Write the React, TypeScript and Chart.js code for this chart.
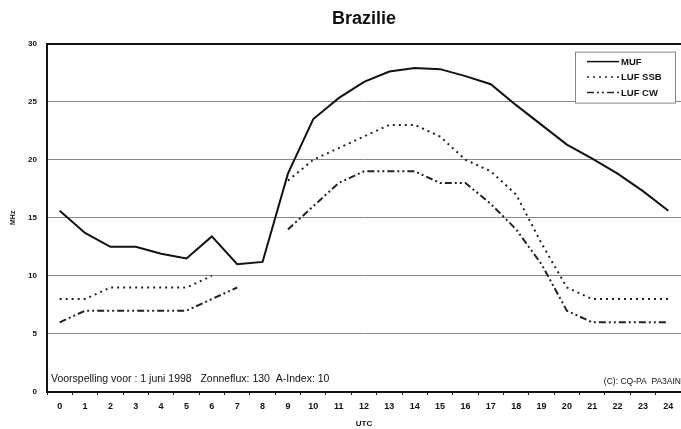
import React, { useEffect, useRef } from "react";
import { Chart, registerables } from "chart.js";

Chart.register(...registerables);

const hours = ["0","1","2","3","4","5","6","7","8","9","10","11","12","13","14","15","16","17","18","19","20","21","22","23","24"];
const muf = [15.6,13.7,12.5,12.5,11.9,11.5,13.4,11.0,11.2,18.8,23.5,25.3,26.7,27.6,27.9,27.8,27.2,26.5,24.7,23.0,21.3,20.1,18.8,17.3,15.6];
const lufSsb = [8,8,9,9,9,9,10,null,null,18.2,20,21,22,23,23,22,20,19,17,12.8,9,8,8,8,8];
const lufCw = [6,7,7,7,7,7,8,9,null,14,16,18,19,19,19,18,18,16.2,14,11,7,6,6,6,6];
const yTicks = [0,5,10,15,20,25,30];
const titleText = "Brazilie";
const footLeft = "Voorspelling voor : 1 juni 1998   Zonneflux: 130  A-Index: 10";
const footRight = "(C): CQ-PA  PA3AIN";

const FONT = "'Liberation Sans', Arial, sans-serif";

const overlayPlugin = {
  id: "overlay",
  afterDraw(chart: any) {
    const ctx = chart.ctx;
    const a = chart.chartArea;
    ctx.save();
    // footnotes
    ctx.fillStyle = "#111";
    ctx.font = `10.5px ${FONT}`;
    ctx.textBaseline = "alphabetic";
    ctx.textAlign = "left";
    ctx.fillText(footLeft, a.left + 4, a.bottom - 10);
    ctx.textAlign = "right";
    ctx.font = `8.5px ${FONT}`;
    ctx.fillText(footRight, a.right, a.bottom - 8);
    // legend
    const bx = a.right - 106, by = a.top + 8, bw = 100, bh = 51;
    ctx.fillStyle = "#fff";
    ctx.fillRect(bx, by, bw, bh);
    ctx.strokeStyle = "#888";
    ctx.lineWidth = 1;
    ctx.strokeRect(bx + 0.5, by + 0.5, bw, bh);
    chart.data.datasets.forEach((ds: any, i: number) => {
      const y = by + 10 + i * 15.5;
      ctx.beginPath();
      ctx.setLineDash(ds.borderDash || []);
      ctx.strokeStyle = ds.borderColor;
      ctx.lineWidth = 1.5;
      ctx.moveTo(bx + 12, y);
      ctx.lineTo(bx + 44, y);
      ctx.stroke();
      ctx.setLineDash([]);
      ctx.fillStyle = "#111";
      ctx.font = `bold 9.5px ${FONT}`;
      ctx.textAlign = "left";
      ctx.textBaseline = "middle";
      ctx.fillText(ds.label, bx + 46, y + 0.5);
    });
    ctx.restore();
  },
};

export default function App() {
  const ref = useRef<HTMLCanvasElement>(null);
  useEffect(() => {
    const chart = new Chart(ref.current!, {
      type: "line",
      data: {
        labels: hours,
        datasets: [
          { label: "MUF", data: muf, borderColor: "#111", borderWidth: 2, pointRadius: 0, spanGaps: false, tension: 0 },
          { label: "LUF SSB", data: lufSsb, borderColor: "#222", borderWidth: 2, borderDash: [2, 4], pointRadius: 0, spanGaps: false, tension: 0 },
          { label: "LUF CW", data: lufCw, borderColor: "#222", borderWidth: 2, borderDash: [7, 3, 2, 3, 2, 3], pointRadius: 0, spanGaps: false, tension: 0 },
        ],
      },
      options: {
        animation: false,
        responsive: false,
        maintainAspectRatio: false,
        layout: { padding: { left: 0, right: 0, top: 0, bottom: 0 } },
        plugins: {
          legend: { display: false },
          tooltip: { enabled: false },
          title: {
            display: true,
            text: titleText,
            fullSize: false,
            color: "#111",
            font: { family: FONT, size: 18, weight: "bold" },
            padding: { top: 8, bottom: 14 },
          },
        },
        scales: {
          x: {
            type: "category",
            offset: true,
            grid: { display: true, drawOnChartArea: false, tickLength: 3, color: "#222", offset: true },
            border: { display: true, color: "#111", width: 2 },
            ticks: { color: "#111", font: { family: FONT, size: 9, weight: "bold" }, maxRotation: 0, autoSkip: false, padding: 6 },
            title: { display: true, text: "UTC", color: "#111", font: { family: FONT, size: 8, weight: "bold" }, padding: { top: 0, bottom: 0 } },
            afterFit: (s: any) => { s.height = 37; },
          },
          y: {
            min: 0,
            max: 30,
            afterBuildTicks: (s: any) => { s.ticks = yTicks.map((v) => ({ value: v })); },
            grid: {
              color: (c: any) => (c.tick && c.tick.value === 30 ? "#111" : "#888"),
              lineWidth: (c: any) => (c.tick && c.tick.value === 30 ? 2 : 1),
              drawTicks: false,
            },
            border: { display: true, color: "#111", width: 2 },
            ticks: { color: "#111", font: { family: FONT, size: 8, weight: "bold" }, padding: 10 },
            title: { display: true, text: "MHz", color: "#111", font: { family: FONT, size: 7, weight: "bold" }, padding: { top: 9, bottom: 0 } },
            afterFit: (s: any) => { s.width = 47; },
          },
        },
      },
      plugins: [overlayPlugin],
    } as any);
    return () => chart.destroy();
  }, []);
  return (
    <div style={{ position: "fixed", left: 0, top: 0, width: 681, height: 429, background: "#fff" }}>
      <canvas ref={ref} width={681} height={429} style={{ width: 681, height: 429, display: "block" }} />
    </div>
  );
}
